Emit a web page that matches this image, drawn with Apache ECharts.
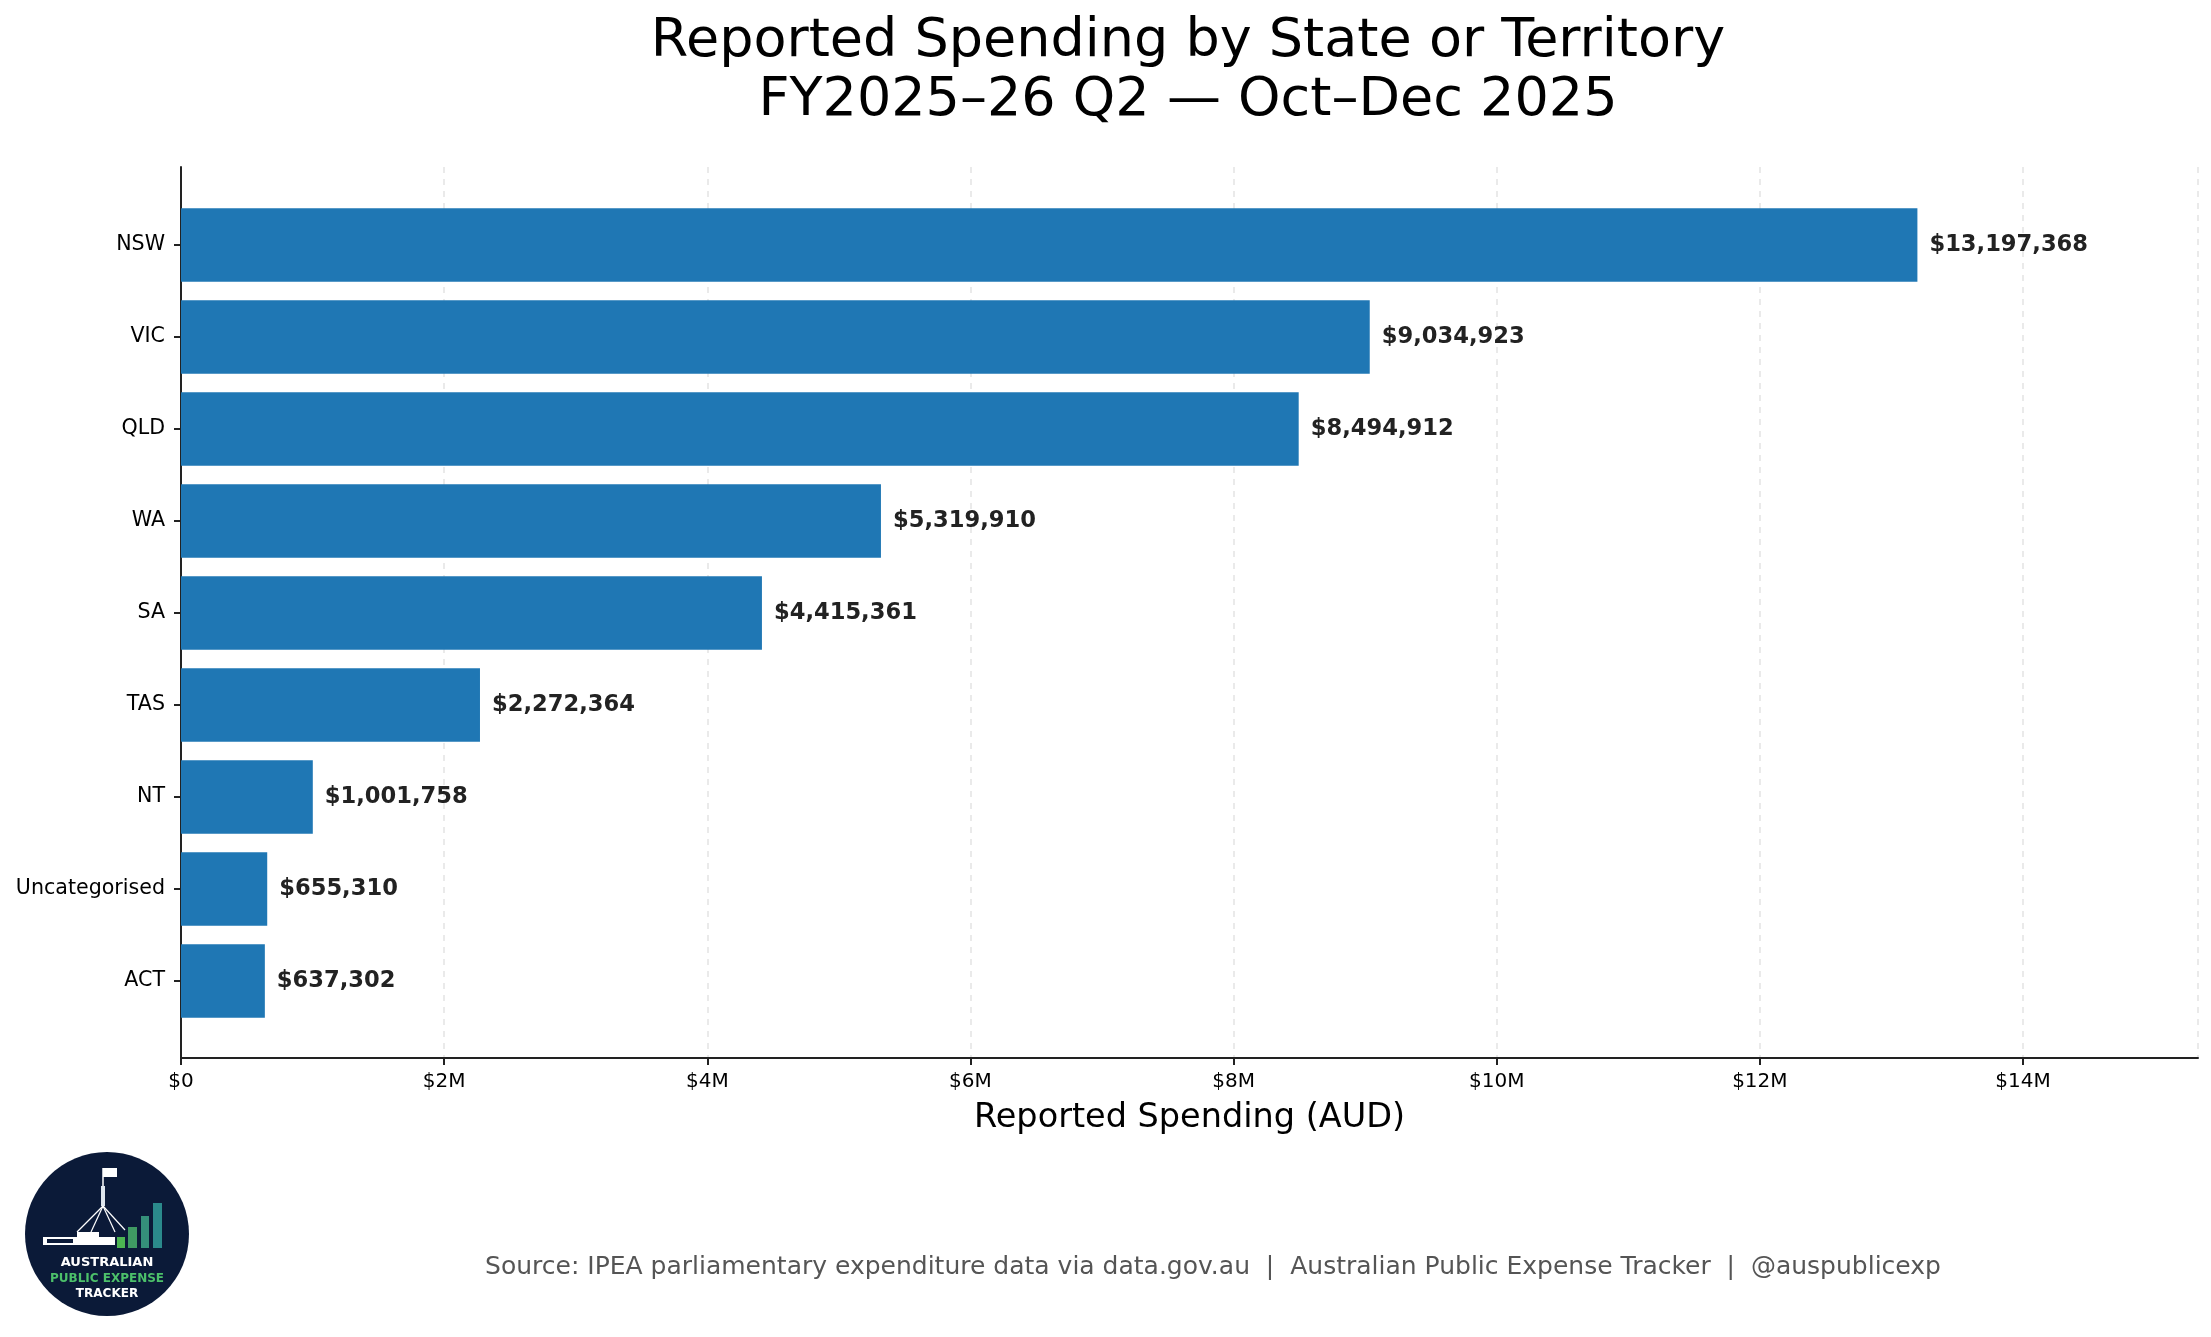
<!DOCTYPE html>
<html>
<head>
<meta charset="utf-8">
<script src="https://cdn.jsdelivr.net/npm/echarts@6/dist/echarts.min.js"></script>
<style>
html,body{margin:0;padding:0;background:#fff;}
#chart{width:2211px;height:1337px;}
</style>
</head>
<body>
<div id="chart"></div>
<script>
const categories = ['NSW', 'VIC', 'QLD', 'WA', 'SA', 'TAS', 'NT', 'Uncategorised', 'ACT'];
const spending = [13197368, 9034923, 8494912, 5319910, 4415361, 2272364, 1001758, 655310, 637302];
const xTickStep = 2000000;
const xMax = 15330000;
const titleText = 'Reported Spending by State or Territory\nFY2025\u201326 Q2 \u2014 Oct\u2013Dec 2025';
const xAxisTitle = 'Reported Spending (AUD)';
const sourceText = 'Source: IPEA parliamentary expenditure data via data.gov.au  |  Australian Public Expense Tracker  |  @auspublicexp';

const FONT = 'DejaVu Sans';
const chart = echarts.init(document.getElementById('chart'), null, {renderer: 'canvas'});

function moneyTick(v) {
  if (v === 0) return '$0';
  return '$' + Math.round(v / 1e6) + 'M';
}
function moneyFull(v) {
  return '$' + Math.round(v).toString().replace(/\B(?=(\d{3})+(?!\d))/g, ',');
}

const option = {
  backgroundColor: '#ffffff',
  animation: false,
  textStyle: {fontFamily: FONT},
  title: [
    {
      text: titleText,
      left: 1183,
      top: 7,
      textAlign: 'center',
      textStyle: {fontFamily: FONT, fontSize: 54, fontWeight: 'normal', color: '#000', lineHeight: 59}
    },
    {
      text: sourceText,
      left: 1208,
      top: 1250,
      textAlign: 'center',
      textStyle: {fontFamily: FONT, fontSize: 25, fontWeight: 'normal', color: '#555555'}
    }
  ],
  grid: [
    {left: 181, right: 13, top: 167, bottom: 279, containLabel: false},
    {left: 181, right: 13, top: 199, height: 828, containLabel: false}
  ],
  xAxis: [
    {
      gridIndex: 0,
      type: 'value',
      min: 0,
      max: xMax,
      interval: xTickStep,
      name: xAxisTitle,
      nameLocation: 'middle',
      nameGap: 43,
      nameTextStyle: {fontFamily: FONT, fontSize: 33.5, color: '#000'},
      axisLine: {show: true, lineStyle: {color: '#222', width: 2}},
      axisTick: {show: true, length: 7, lineStyle: {color: '#222', width: 2}},
      axisLabel: {fontFamily: FONT, fontSize: 20, color: '#000', margin: 14, formatter: moneyTick, showMaxLabel: false},
      splitLine: {show: true, lineStyle: {color: '#e3e3e3', type: [6, 6], width: 1.5}}
    },
    {
      gridIndex: 1,
      type: 'value',
      min: 0,
      max: xMax,
      show: false,
      splitLine: {show: false}
    }
  ],
  yAxis: [
    {
      gridIndex: 0,
      type: 'value',
      min: 0,
      max: 1,
      axisLine: {show: true, onZero: false, lineStyle: {color: '#222', width: 2}},
      axisTick: {show: false},
      axisLabel: {show: false},
      splitLine: {show: false}
    },
    {
      gridIndex: 1,
      type: 'category',
      inverse: true,
      data: categories,
      axisLine: {show: false},
      axisTick: {show: true, length: 7, alignWithLabel: true, lineStyle: {color: '#222', width: 2}},
      axisLabel: {fontFamily: FONT, fontSize: 20.6, color: '#000', margin: 16},
      splitLine: {show: false}
    }
  ],
  series: [
    {
      type: 'bar',
      xAxisIndex: 1,
      yAxisIndex: 1,
      data: spending,
      barWidth: '80%',
      itemStyle: {color: '#1f77b4'},
      label: {
        show: true,
        position: 'right',
        distance: 12,
        fontFamily: FONT,
        fontSize: 22.6,
        fontWeight: 'bold',
        color: '#222',
        formatter: p => moneyFull(p.value)
      }
    }
  ],
  graphic: [
    {
      type: 'group',
      left: 25,
      top: 1152,
      children: [
        {type: 'circle', shape: {cx: 82, cy: 82, r: 82}, style: {fill: '#0b1a38'}},
        {type: 'rect', shape: {x: 78, y: 16, width: 14, height: 9}, style: {fill: '#ffffff'}},
        {type: 'line', shape: {x1: 78, y1: 16, x2: 78, y2: 56}, style: {stroke: '#ffffff', lineWidth: 1.5}},
        {type: 'rect', shape: {x: 76, y: 34, width: 4, height: 20}, style: {fill: '#dfe6ee'}},
        {type: 'line', shape: {x1: 78, y1: 54, x2: 52, y2: 80}, style: {stroke: '#fff', lineWidth: 1.2}},
        {type: 'line', shape: {x1: 78, y1: 54, x2: 66, y2: 80}, style: {stroke: '#fff', lineWidth: 1.2}},
        {type: 'line', shape: {x1: 78, y1: 54, x2: 90, y2: 80}, style: {stroke: '#fff', lineWidth: 1.2}},
        {type: 'line', shape: {x1: 78, y1: 54, x2: 100, y2: 78}, style: {stroke: '#fff', lineWidth: 1.2}},
        {type: 'rect', shape: {x: 18, y: 85, width: 72, height: 8}, style: {fill: '#ffffff'}},
        {type: 'rect', shape: {x: 52, y: 80, width: 22, height: 6}, style: {fill: '#ffffff'}},
        {type: 'rect', shape: {x: 22, y: 87, width: 26, height: 4}, style: {fill: '#0b1a38'}},
        {type: 'rect', shape: {x: 92, y: 85, width: 8, height: 11}, style: {fill: '#4cb552'}},
        {type: 'rect', shape: {x: 103, y: 75, width: 9, height: 21}, style: {fill: '#3f9a63'}},
        {type: 'rect', shape: {x: 116, y: 64, width: 8, height: 32}, style: {fill: '#35907a'}},
        {type: 'rect', shape: {x: 128, y: 51, width: 9, height: 45}, style: {fill: '#2b8a8c'}},
        {type: 'text', style: {text: 'AUSTRALIAN', x: 82, y: 111, align: 'center', verticalAlign: 'middle', fill: '#ffffff', font: 'bold 13px "DejaVu Sans"'}},
        {type: 'text', style: {text: 'PUBLIC EXPENSE', x: 82, y: 127, align: 'center', verticalAlign: 'middle', fill: '#4cc06a', font: 'bold 12px "DejaVu Sans"'}},
        {type: 'text', style: {text: 'TRACKER', x: 82, y: 142, align: 'center', verticalAlign: 'middle', fill: '#ffffff', font: 'bold 12px "DejaVu Sans"'}}
      ]
    }
  ]
};
chart.setOption(option);
</script>
</body>
</html>
